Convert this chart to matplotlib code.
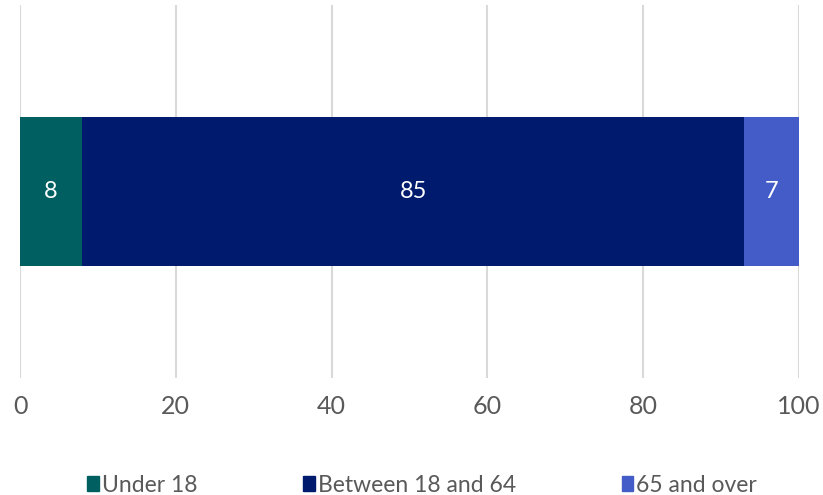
import matplotlib
matplotlib.use("Agg")
import matplotlib.pyplot as plt
from matplotlib.patches import Patch

plt.rcParams['font.family'] = ['Lato', 'DejaVu Sans']

# data
groups = ["Under 18", "Between 18 and 64", "65 and over"]
values = [8, 85, 7]
colors = ["#005F60", "#001A6E", "#435CC8"]
ticks = [0, 20, 40, 60, 80, 100]

fig = plt.figure(figsize=(8.23, 4.95), dpi=100)
ax = fig.add_axes([20 / 823, 1 - 378 / 495, 779 / 823, 373 / 495])

left = 0
for g, v, c in zip(groups, values, colors):
    ax.barh(0, v, left=left, height=0.4, color=c, label=g, zorder=3)
    ax.text(left + v / 2, 0, str(v), ha='center', va='center',
            color='white', fontsize=17)
    left += v

ax.set_xlim(0, 100)
ax.set_ylim(-0.5, 0.5)
ax.set_xticks(ticks)
ax.set_xticklabels([str(t) for t in ticks])
ax.set_yticks([])
ax.tick_params(axis='x', length=0, pad=12, labelsize=18, labelcolor='#595959')
ax.grid(axis='x', color='#D9D9D9', linewidth=1.5, zorder=0)
for s in ax.spines.values():
    s.set_visible(False)

handles = [Patch(color=c, label=g) for g, c in zip(groups, colors)]
leg = fig.legend(handles=handles, loc='center', ncol=3, frameon=False,
                 prop={'size': 16.5},
                 handlelength=0.5, handleheight=0.6,
                 handletextpad=0.15, columnspacing=4.6, labelcolor='#595959')
leg.set_bbox_to_anchor((0.513, 1 - 485 / 495), transform=fig.transFigure)

fig.savefig("out.png", dpi=100)
